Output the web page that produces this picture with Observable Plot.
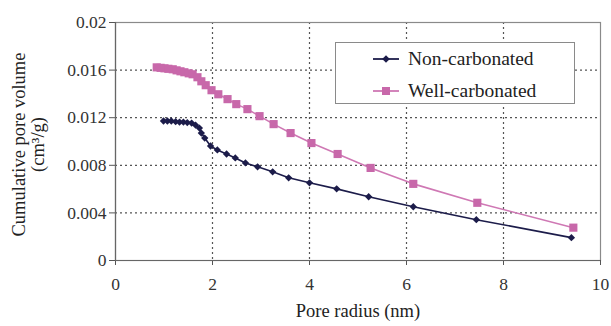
<!DOCTYPE html>
<html>
<head>
<meta charset="utf-8">
<script src="https://cdn.jsdelivr.net/npm/d3@7"></script>
<script src="https://cdn.jsdelivr.net/npm/@observablehq/plot@0.6"></script>
<style>
  html, body { margin: 0; padding: 0; background: #fff; }
  #wrap { position: relative; width: 611px; height: 326px; }
  #wrap svg text { font-family: "Liberation Serif", serif; }
  #legend { position: absolute; left: 335px; top: 42px; width: 238px; height: 60px;
    border: 1px solid #8a8a8a; background: #fff; font-family: "Liberation Serif", serif;
    font-size: 19.5px; color: #222; box-sizing: content-box; }
  .row { position: absolute; left: 37px; height: 20px; display: flex; align-items: center; }
  .row span { margin-left: 9px; }
</style>
</head>
<body>
<div id="wrap"></div>
<script>
// Data
const nonX = [0.99,1.07,1.15,1.24,1.32,1.40,1.48,1.57,1.65,1.73,1.77,1.84,1.96,2.10,2.29,2.47,2.68,2.93,3.24,3.57,4.00,4.56,5.22,6.14,7.44,9.40];
const nonY = [0.01172,0.01172,0.01172,0.01167,0.01163,0.01163,0.01159,0.01155,0.01138,0.01113,0.01071,0.01029,0.00962,0.00929,0.00895,0.00862,0.00820,0.00787,0.00745,0.00695,0.00653,0.00602,0.00536,0.00452,0.00343,0.00192];
const wellX = [0.85,0.93,1.01,1.09,1.18,1.26,1.34,1.42,1.51,1.59,1.69,1.77,1.86,1.98,2.12,2.31,2.49,2.72,2.97,3.26,3.61,4.04,4.58,5.26,6.14,7.46,9.44];
const wellY = [0.01623,0.01619,0.01615,0.01611,0.01607,0.01598,0.01590,0.01582,0.01573,0.01565,0.01540,0.01506,0.01473,0.01431,0.01397,0.01356,0.01314,0.01272,0.01213,0.01146,0.01071,0.00987,0.00895,0.00778,0.00644,0.00485,0.00276];
const seriesNames = ["Non-carbonated", "Well-carbonated"];
const xTicks = [0, 2, 4, 6, 8, 10];
const yTicks = [0, 0.004, 0.008, 0.012, 0.016, 0.02];
const xGrid = [2, 4, 6, 8];
const yGrid = [0.004, 0.008, 0.012, 0.016];
const xTitle = "Pore radius (nm)";
const yTitle1 = "Cumulative pore volume";
const yTitle2 = "(cm\u00B3/g)";

const navy = "#1c1c4a";
const pink = "#c868aa";
const pinkLine = "#cf78b4";
const serif = "'Liberation Serif', serif";

const non = nonX.map((x, i) => ({x, y: nonY[i]}));
const well = wellX.map((x, i) => ({x, y: wellY[i]}));

const chart = Plot.plot({
  width: 611, height: 326,
  marginLeft: 115, marginRight: 11, marginTop: 22, marginBottom: 66,
  style: { fontFamily: serif, fontSize: "17.5px", color: "#333", background: "#fff" },
  x: { domain: [0, 10] },
  y: { domain: [0, 0.02] },
  marks: [
    Plot.ruleX(xGrid, { stroke: "#555", strokeWidth: 1.2, strokeDasharray: "2,3" }),
    Plot.ruleY(yGrid, { stroke: "#555", strokeWidth: 1.2, strokeDasharray: "2,3" }),
    Plot.frame({ stroke: "#8a8a8a", strokeWidth: 1.2 }),
    Plot.axisX({ ticks: xTicks, tickSize: 5, tickPadding: 12, label: null, stroke: "#555", fill: "#333",
      fontFamily: serif, fontSize: 17.5, tickFormat: d => String(d) }),
    Plot.axisY({ ticks: yTicks, tickSize: 6, tickPadding: 3, label: null, stroke: "#555", fill: "#333",
      fontFamily: serif, fontSize: 17.5, tickFormat: d => d === 0 ? "0" : String(+d.toFixed(3)) }),
    Plot.ruleY([0], { stroke: "#666", strokeWidth: 1.2 }),
    Plot.ruleX([0], { stroke: "#666", strokeWidth: 1.2 }),
    Plot.line(non, { x: "x", y: "y", stroke: navy, strokeWidth: 1.6 }),
    Plot.line(well, { x: "x", y: "y", stroke: pinkLine, strokeWidth: 1.6 }),
    Plot.dot(non, { x: "x", y: "y", symbol: "diamond2", r: 3.3, fill: navy, stroke: "none" }),
    Plot.dot(well, { x: "x", y: "y", symbol: "square", r: 4.6, fill: pink, stroke: "none" }),
    Plot.text([xTitle], { frameAnchor: "bottom", dy: 56, fontSize: 18.5, fontFamily: serif, fill: "#222" }),
    Plot.text([yTitle1], { frameAnchor: "left", textAnchor: "middle", dx: -96, dy: 3, rotate: -90, fontSize: 18.5, fontFamily: serif, fill: "#222" }),
    Plot.text([yTitle2], { frameAnchor: "left", textAnchor: "middle", dx: -77, dy: 3, rotate: -90, fontSize: 18.5, fontFamily: serif, fill: "#222" })
  ]
});
const wrap = document.getElementById("wrap");
wrap.appendChild(chart);

// Legend overlay
const legend = document.createElement("div");
legend.id = "legend";
const mk = (name, color, shape, top) => {
  const row = document.createElement("div");
  row.className = "row";
  row.style.top = top + "px";
  const svg = shape === "diamond"
    ? `<svg width="26" height="12"><line x1="0" y1="6" x2="26" y2="6" stroke="${color}" stroke-width="1.8"/><path d="M13,2.2 L16.8,6 L13,9.8 L9.2,6Z" fill="${color}"/></svg>`
    : `<svg width="26" height="12"><line x1="0" y1="6" x2="26" y2="6" stroke="${pinkLine}" stroke-width="1.8"/><rect x="9" y="2" width="8" height="8" fill="${color}"/></svg>`;
  row.innerHTML = svg + `<span>${name}</span>`;
  legend.appendChild(row);
};
mk(seriesNames[0], navy, "diamond", 6);
mk(seriesNames[1], pink, "square", 38);
wrap.appendChild(legend);
</script>
</body>
</html>
